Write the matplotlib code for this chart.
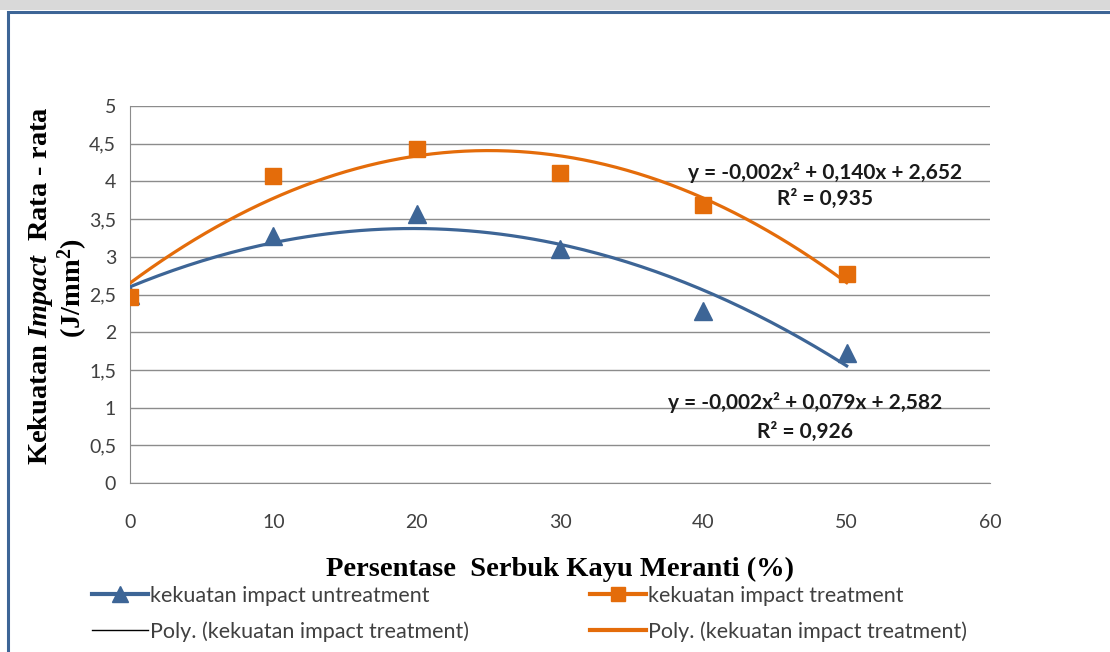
import numpy as np
import matplotlib
matplotlib.use("Agg")
import matplotlib.pyplot as plt
from matplotlib.lines import Line2D
from matplotlib.patches import Rectangle
from matplotlib.ticker import FuncFormatter

plt.rcParams['mathtext.fontset'] = 'custom'
plt.rcParams['mathtext.rm'] = 'Liberation Serif:bold'
plt.rcParams['mathtext.it'] = 'Liberation Serif:italic:bold'
plt.rcParams['mathtext.bf'] = 'Liberation Serif:bold'

persen = [0, 10, 20, 30, 40, 50]
untreat = [2.50, 3.27, 3.57, 3.10, 2.28, 1.72]
treat = [2.47, 4.07, 4.43, 4.11, 3.69, 2.77]
eq_untreat = ["y = -0,002x\u00b2 + 0,079x + 2,582", "R\u00b2 = 0,926"]
eq_treat = ["y = -0,002x\u00b2 + 0,140x + 2,652", "R\u00b2 = 0,935"]

blue = '#3D6596'
orange = '#E46C0A'
grey_txt = '#404040'

fig = plt.figure(figsize=(11.1, 6.52), dpi=100)
# frame of the picture
fig.patches.append(Rectangle((0, 1 - 10/652), 1, 10/652, transform=fig.transFigure,
                             facecolor='#d9d9d9', edgecolor='none', zorder=0))
fig.patches.append(Rectangle((8/1110, -0.02), 1.1, 1 - 12/652 + 0.02, transform=fig.transFigure,
                             facecolor='white', edgecolor=blue, linewidth=2.2, zorder=1))

ax = fig.add_axes([130/1110, 1 - 483/652, 860/1110, 377/652])
ax.set_zorder(3)
ax.set_facecolor('none')

# trendlines (2nd order polynomial)
xs = np.linspace(0, 50, 200)
pu = np.polyfit(persen, untreat, 2)
pt = np.polyfit(persen, treat, 2)
ax.plot(xs, np.polyval(pu, xs), color=blue, lw=2.3, zorder=3)
ax.plot(xs, np.polyval(pt, xs), color=orange, lw=2.3, zorder=3)

ax.plot(persen, untreat, linestyle='none', marker='^', ms=13, color=blue, mec=blue, zorder=4)
ax.plot(persen, treat, linestyle='none', marker='s', ms=12, color=orange, mec=orange, zorder=5)

ax.set_xlim(0, 60)
ax.set_ylim(0, 5)
ax.set_xticks(np.arange(0, 61, 10))
ax.set_yticks(np.arange(0, 5.01, 0.5))
ax.yaxis.set_major_formatter(FuncFormatter(lambda v, p: ('%g' % v).replace('.', ',')))
ax.grid(axis='y', color='#8c8c8c', lw=1)
ax.set_axisbelow(True)
for s in ['top', 'right']:
    ax.spines[s].set_visible(False)
for s in ['left', 'bottom']:
    ax.spines[s].set_color('#8c8c8c')
ax.tick_params(length=0, labelsize=14, labelcolor=grey_txt)
ax.tick_params(axis='y', pad=10)
ax.tick_params(axis='x', pad=22)
for t in ax.get_xticklabels() + ax.get_yticklabels():
    t.set_fontfamily('Lato')

# trendline equations
eq_kw = dict(ha='center', va='center', fontsize=15, fontfamily='Lato',
             fontweight='bold', color='#1a1a1a')
ax.text(48.5, 4.12, eq_treat[0], **eq_kw)
ax.text(48.5, 3.77, eq_treat[1], **eq_kw)
ax.text(47.1, 1.07, eq_untreat[0], **eq_kw)
ax.text(47.1, 0.68, eq_untreat[1], **eq_kw)

# axis titles
fig.text(41/1110, 1 - 286/652, r'Kekuatan $\mathit{Impact}$  Rata - rata',
         rotation=90, ha='center', va='center', fontsize=20.5,
         fontfamily='Liberation Serif', fontweight='bold')
fig.text(73/1110, 1 - 288/652, r'(J/mm$^2$)',
         rotation=90, ha='center', va='center', fontsize=20.5,
         fontfamily='Liberation Serif', fontweight='bold')
fig.text(560/1110, 1 - 569/652, 'Persentase  Serbuk Kayu Meranti (%)', ha='center', va='center',
         fontsize=20.5, fontfamily='Liberation Serif', fontweight='bold')

# legend
handles = [
    Line2D([], [], color=blue, lw=3, marker='^', ms=11),
    Line2D([], [], color='black', lw=1),
    Line2D([], [], color=orange, lw=3, marker='s', ms=10),
    Line2D([], [], color=orange, lw=3),
]
labels = ['kekuatan impact untreatment', 'Poly. (kekuatan impact treatment)',
          'kekuatan impact treatment', 'Poly. (kekuatan impact treatment)']
leg = fig.legend(handles, labels, ncol=2, loc='upper left', bbox_to_anchor=(92/1110, 1 - 586/652),
                 frameon=False, prop={'family': 'Lato', 'size': 15.5}, handlelength=2.6,
                 handletextpad=0.1, columnspacing=5.6, labelspacing=0.7, borderpad=0,
                 borderaxespad=0)
for t in leg.get_texts():
    t.set_color(grey_txt)

fig.savefig('out.png', dpi=100)
